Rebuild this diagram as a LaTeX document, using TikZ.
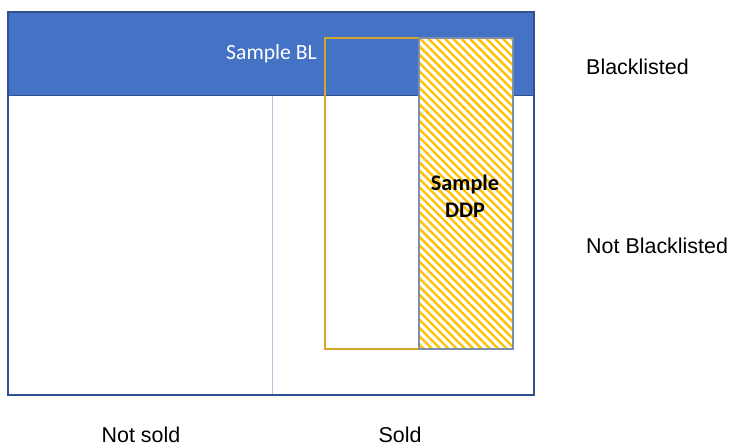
\documentclass[tikz,border=0pt]{standalone}
\usepackage{fontspec}
\setmainfont{Liberation Sans}
\newfontfamily\calibri{Carlito}
\usetikzlibrary{patterns.meta}
\definecolor{bandblue}{HTML}{4472C4}
\definecolor{edgeblue}{HTML}{2F528F}
\definecolor{divgrey}{HTML}{B4C3DC}
\definecolor{goldline}{HTML}{D4A72C}
\definecolor{hatchgold}{HTML}{FFC000}
\definecolor{ddpedge}{HTML}{7F8FA9}

\begin{document}
\begin{tikzpicture}[
    x=0.3mm,y=-0.3mm,
    lbl/.style={font=\fontsize{18.3}{21}\selectfont,inner sep=0pt},
    inlbl/.style={font=\calibri\fontsize{18.5}{21}\selectfont,inner sep=0pt,align=center}
  ]
  \useasboundingbox (0,0) rectangle (730,447);

  % outer box and blacklist band
  \fill[white] (8,12) rectangle (534,395);
  \draw[divgrey,line width=0.8pt] (272,95) -- (272,395);
  \fill[bandblue] (8,12) rectangle (534,95);
  \draw[edgeblue,line width=0.8pt] (8,95) -- (534,95);
  \draw[edgeblue,line width=0.9pt] (8,12) rectangle (534,395);

  % sample regions
  \draw[goldline,line width=0.9pt] (325,38) rectangle (513,349);
  \path[fill=white] (419,38) rectangle (513,349);
  \path[pattern={Lines[angle=-45,distance=5pt,line width=2pt]},pattern color=hatchgold]
       (419,38) rectangle (513,349);
  \draw[ddpedge,line width=0.9pt] (419,38) rectangle (513,349);

  \node[inlbl,white,anchor=east] (bl)  at (317,54)  {Sample BL};
  \node[inlbl,font=\calibri\bfseries\fontsize{19}{23}\selectfont] (ddp) at (465,196) {Sample\\DDP};

  % row and column labels
  \node[lbl,anchor=west] (black)    at (586,67)  {Blacklisted};
  \node[lbl,anchor=west] (notblack) at (586,246) {Not Blacklisted};
  \node[lbl] (notsold) at (141,435) {Not sold};
  \node[lbl] (sold)    at (400,435) {Sold};
\end{tikzpicture}
\end{document}
